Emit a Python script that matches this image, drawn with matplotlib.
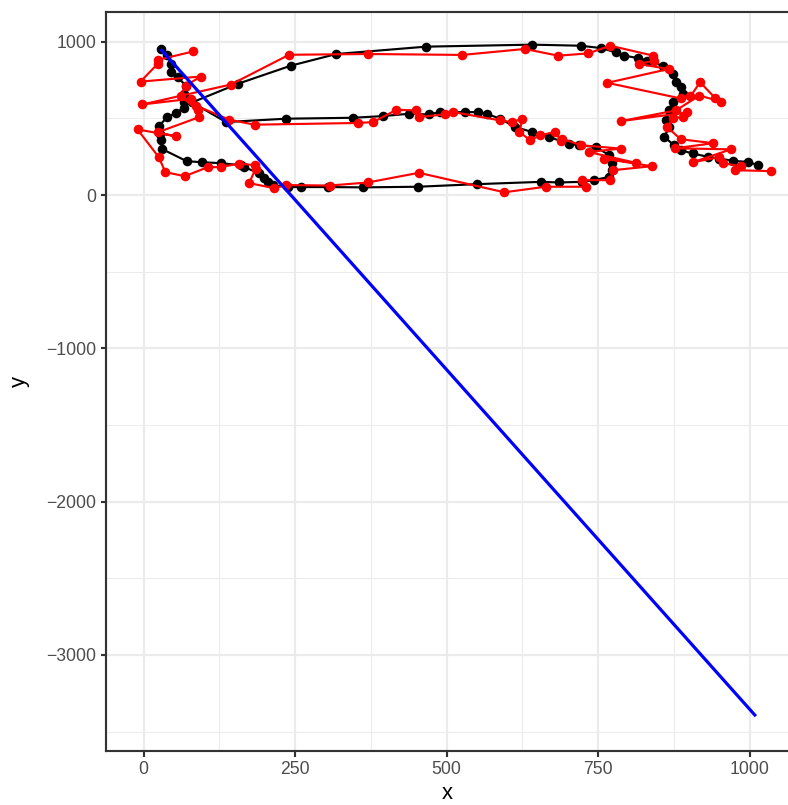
import matplotlib
matplotlib.use("Agg")
import matplotlib.pyplot as plt
from matplotlib.ticker import FixedLocator

# ---- data ----
black_x = [28, 39, 45, 45, 56, 70, 66, 66, 66, 53, 39, 25, 27, 28, 31, 71, 96, 127, 160, 166,
           190, 199, 205, 213, 238, 260, 305, 362, 452, 550, 656, 685, 723, 743, 768, 773, 773,
           768, 746, 718, 701, 668, 641, 613, 588, 566, 552, 530, 489, 470, 437, 395, 345, 235,
           136, 80, 155, 243, 318, 466, 641, 721, 754, 779, 793, 815, 831, 856, 873, 878, 886,
           889, 873, 867, 861, 867, 859, 875, 886, 906, 931, 950, 972, 997, 1013]
black_y = [952, 915, 855, 800, 768, 714, 660, 604, 570, 532, 509, 448, 400, 357, 299, 221, 214,
           208, 195, 182, 143, 110, 84, 65, 52, 52, 52, 50, 54, 71, 86, 82, 86, 97, 119, 162, 206,
           260, 314, 325, 336, 379, 411, 444, 498, 530, 541, 541, 541, 526, 530, 515, 504, 498,
           476, 604, 725, 844, 920, 968, 981, 974, 959, 931, 909, 894, 877, 844, 790, 736, 703,
           660, 606, 552, 487, 444, 379, 325, 292, 271, 249, 238, 223, 216, 195]

red_x = [82, 23, 23, -5, 94, 70, 61, 89, 91, 23, 53, -10, 25, 36, 68, 106, 127, 157, 183, 185,
         174, 215, 235, 307, 370, 454, 595, 663, 729, 723, 770, 774, 838, 759, 812, 734, 787,
         721, 690, 688, 679, 654, 638, 620, 625, 608, 588, 511, 497, 454, 450, 417, 379, 354,
         183, 141, 86, 78, -2, 144, 240, 370, 526, 629, 684, 733, 770, 841, 842, 817, 866, 765,
         886, 902, 918, 942, 952, 917, 878, 787, 897, 889, 873, 864, 886, 940, 876, 969, 906,
         950, 955, 985, 975, 1035]
red_y = [937, 881, 855, 740, 773, 714, 649, 552, 507, 409, 383, 428, 247, 149, 123, 182, 182,
         205, 195, 172, 78, 45, 65, 62, 82, 145, 18, 54, 54, 97, 97, 162, 188, 238, 210, 281,
         303, 325, 368, 353, 411, 390, 357, 411, 498, 476, 487, 541, 526, 509, 552, 556, 476,
         470, 459, 492, 584, 628, 591, 721, 915, 920, 914, 953, 909, 924, 974, 909, 877, 855,
         822, 732, 630, 643, 736, 636, 610, 649, 552, 482, 539, 507, 504, 442, 364, 338, 305,
         298, 214, 247, 208, 188, 162, 156]

blue_x = [28, 1010]
blue_y = [952, -3400]

x_ticks = [0, 250, 500, 750, 1000]
y_ticks = [-3000, -2000, -1000, 0, 1000]
x_minor = [125, 375, 625, 875]
y_minor = [-3500, -2500, -1500, -500, 500]

# ---- figure ----
plt.rcParams['font.family'] = ['Liberation Sans', 'DejaVu Sans']
W, H, DPI = 788, 805, 144
fig = plt.figure(figsize=(W / DPI, H / DPI), dpi=DPI)
ax = fig.add_axes([106 / W, (H - 750.7) / H, (W - 106) / W, (750.7 - 11.7) / H])

ax.plot(black_x, black_y, color='black', lw=1.07, marker='o', ms=4.8,
        markeredgewidth=0, zorder=3)
ax.plot(red_x, red_y, color='#FF0000', lw=1.07, marker='o', ms=4.8,
        markeredgewidth=0, zorder=4)
ax.plot(blue_x, blue_y, color='#0000FF', lw=1.6, zorder=5, solid_capstyle='butt')

ax.set_xlim(-62, 1063)
ax.set_ylim(-3625, 1196)

ax.xaxis.set_major_locator(FixedLocator(x_ticks))
ax.yaxis.set_major_locator(FixedLocator(y_ticks))
ax.xaxis.set_minor_locator(FixedLocator(x_minor))
ax.yaxis.set_minor_locator(FixedLocator(y_minor))
ax.set_xticklabels([str(v) for v in x_ticks])
ax.set_yticklabels(['\u22123000', '\u22122000', '\u22121000', '0', '1000'])

ax.grid(which='major', color='#EBEBEB', lw=1.07)
ax.grid(which='minor', color='#EBEBEB', lw=0.53)
ax.set_axisbelow(True)

for s in ['left', 'bottom', 'top']:
    ax.spines[s].set_color('#333333')
    ax.spines[s].set_linewidth(1.07)
ax.spines['right'].set_visible(False)

ax.tick_params(which='major', length=2.75, width=1.07, color='#333333',
               labelsize=8.8, labelcolor='#4D4D4D', pad=2.2)
ax.tick_params(which='minor', length=0)

ax.set_xlabel('x', fontsize=11, color='black', labelpad=2.5)
ax.set_ylabel('y', fontsize=11, color='black', labelpad=8)

fig.savefig('out.png', dpi=DPI)
